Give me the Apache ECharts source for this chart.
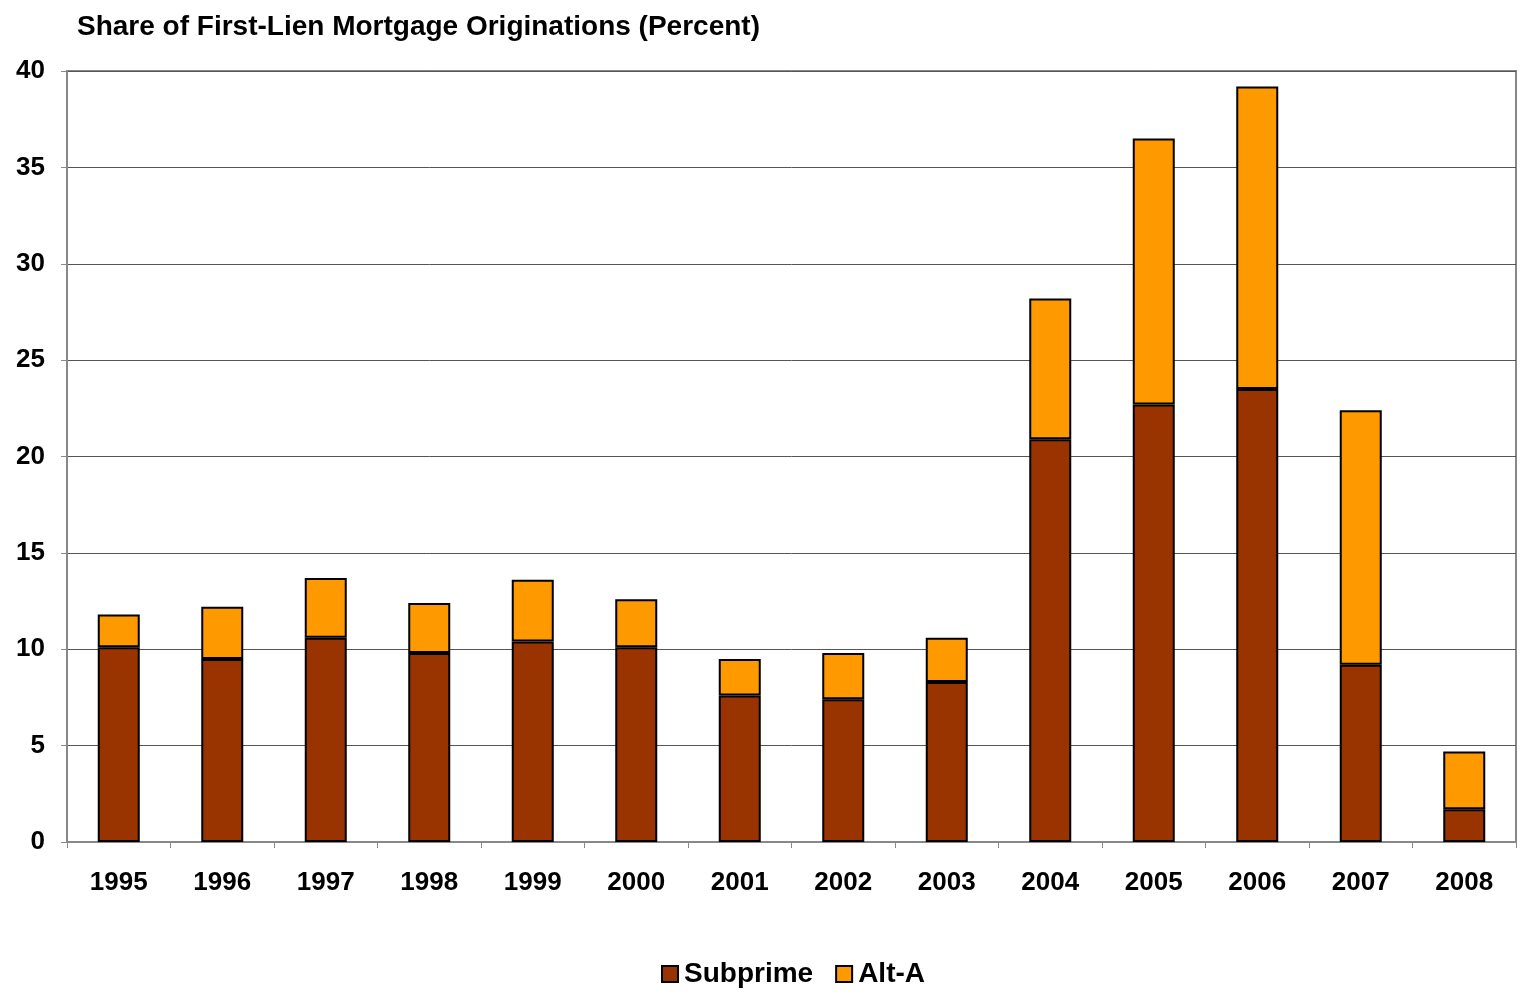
<!DOCTYPE html>
<html><head><meta charset="utf-8">
<script src="https://cdn.jsdelivr.net/npm/echarts@6/dist/echarts.min.js"></script>
<style>html,body{margin:0;padding:0;background:#fff}#c{width:1520px;height:997px}</style>
</head><body><div id="c"></div>
<script>
const years = ['1995','1996','1997','1998','1999','2000','2001','2002','2003','2004','2005','2006','2007','2008'];
const subprime = [10.1, 9.5, 10.6, 9.8, 10.4, 10.1, 7.6, 7.4, 8.3, 20.9, 22.7, 23.5, 9.2, 1.7];
const altA = [1.7, 2.7, 3.1, 2.6, 3.2, 2.5, 1.9, 2.4, 2.3, 7.3, 13.8, 15.7, 13.2, 3.0];
const yTicks = [0, 5, 10, 15, 20, 25, 30, 35, 40];
const FONT = '"Liberation Sans", Arial, sans-serif';
const chart = echarts.init(document.getElementById('c'));
chart.setOption({
  animation: false,
  textStyle: {fontFamily: FONT},
  title: {text: 'Share of First-Lien Mortgage Originations (Percent)', left: 72, top: 8,
    textStyle: {fontFamily: FONT, fontWeight: 'bold', fontSize: 28, color: '#000'}},
  legend: {bottom: 4, left: 656, itemWidth: 16, itemHeight: 16, itemGap: 22,
    icon: 'rect', textStyle: {fontFamily: FONT, fontWeight: 'bold', fontSize: 28, color: '#000', padding: [0,0,0,1]},
    data: ['Subprime', 'Alt-A']},
  grid: {left: 67, right: 4, top: 71, bottom: 155, show: true, borderColor: '#888', borderWidth: 2},
  xAxis: {type: 'category', data: years,
    axisLine: {lineStyle: {color: '#888', width: 2}},
    axisTick: {show: true, length: 6, lineStyle: {color: '#888'}},
    axisLabel: {fontFamily: FONT, fontWeight: 'bold', fontSize: 26, color: '#000', margin: 28}},
  yAxis: {type: 'value', min: 0, max: 40, interval: 5,
    axisLine: {show: true, lineStyle: {color: '#888', width: 2}},
    axisTick: {show: true, length: 6, lineStyle: {color: '#888'}},
    splitLine: {lineStyle: {color: '#555', width: 1}},
    axisLabel: {fontFamily: FONT, fontWeight: 'bold', fontSize: 26, color: '#000', margin: 22,
      formatter: v => yTicks.includes(v) ? String(v) : ''}},
  series: [
    {name: 'Subprime', type: 'bar', stack: 'a', data: subprime, barWidth: 42,
      itemStyle: {color: '#993300', borderColor: '#000', borderWidth: 2}},
    {name: 'Alt-A', type: 'bar', stack: 'a', data: altA, barWidth: 42,
      itemStyle: {color: '#FF9900', borderColor: '#000', borderWidth: 2}}
  ]
});
</script></body></html>
